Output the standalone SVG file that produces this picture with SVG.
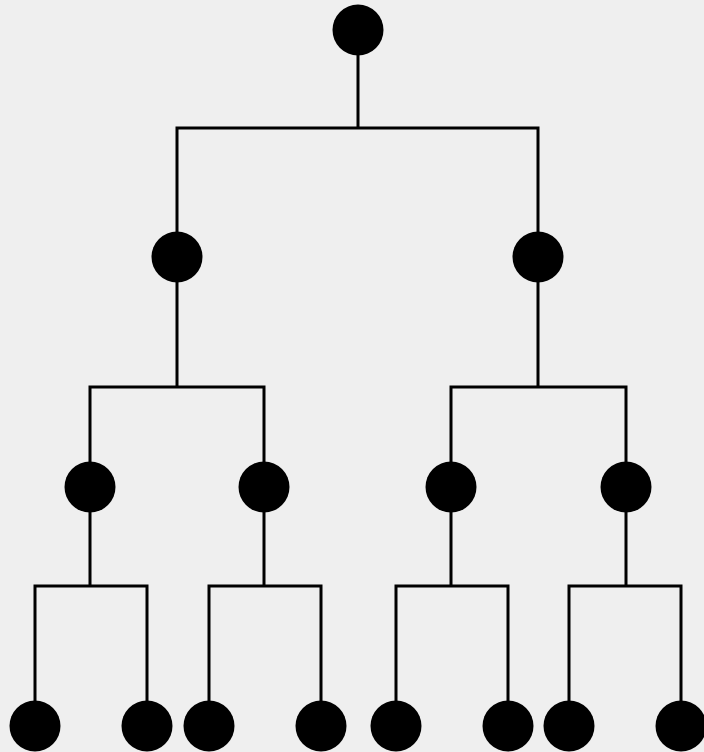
<svg xmlns="http://www.w3.org/2000/svg" width="704" height="752" viewBox="0 0 704 752">
<style>
.n{fill:#000}
.c{fill:none;stroke:#000;stroke-width:3;stroke-linejoin:miter;stroke-linecap:square}
</style>
<rect width="704" height="752" fill="#efefef"/>
<g id="connectors">
<path class="c" d="M358 30V128M177 257V128H538V257"/>
<path class="c" d="M177 257V387M90 487V387H264V487"/>
<path class="c" d="M538 257V387M451 487V387H626V487"/>
<path class="c" d="M90 487V586M35 726V586H147V726"/>
<path class="c" d="M264 487V586M209 726V586H321V726"/>
<path class="c" d="M451 487V586M396 726V586H508V726"/>
<path class="c" d="M626 487V586M569 726V586H681V726"/>
</g>
<g id="root"><circle class="n" cx="358" cy="30" r="25.5"/></g>
<g id="l1a"><circle class="n" cx="177" cy="257" r="25.5"/></g>
<g id="l1b"><circle class="n" cx="538" cy="257" r="25.5"/></g>
<g id="l2a"><circle class="n" cx="90" cy="487" r="25.5"/></g>
<g id="l2b"><circle class="n" cx="264" cy="487" r="25.5"/></g>
<g id="l2c"><circle class="n" cx="451" cy="487" r="25.5"/></g>
<g id="l2d"><circle class="n" cx="626" cy="487" r="25.5"/></g>
<g id="leaf1"><circle class="n" cx="35" cy="726" r="25.5"/></g>
<g id="leaf2"><circle class="n" cx="147" cy="726" r="25.5"/></g>
<g id="leaf3"><circle class="n" cx="209" cy="726" r="25.5"/></g>
<g id="leaf4"><circle class="n" cx="321" cy="726" r="25.5"/></g>
<g id="leaf5"><circle class="n" cx="396" cy="726" r="25.5"/></g>
<g id="leaf6"><circle class="n" cx="508" cy="726" r="25.5"/></g>
<g id="leaf7"><circle class="n" cx="569" cy="726" r="25.5"/></g>
<g id="leaf8"><circle class="n" cx="681" cy="726" r="25.5"/></g>
</svg>
